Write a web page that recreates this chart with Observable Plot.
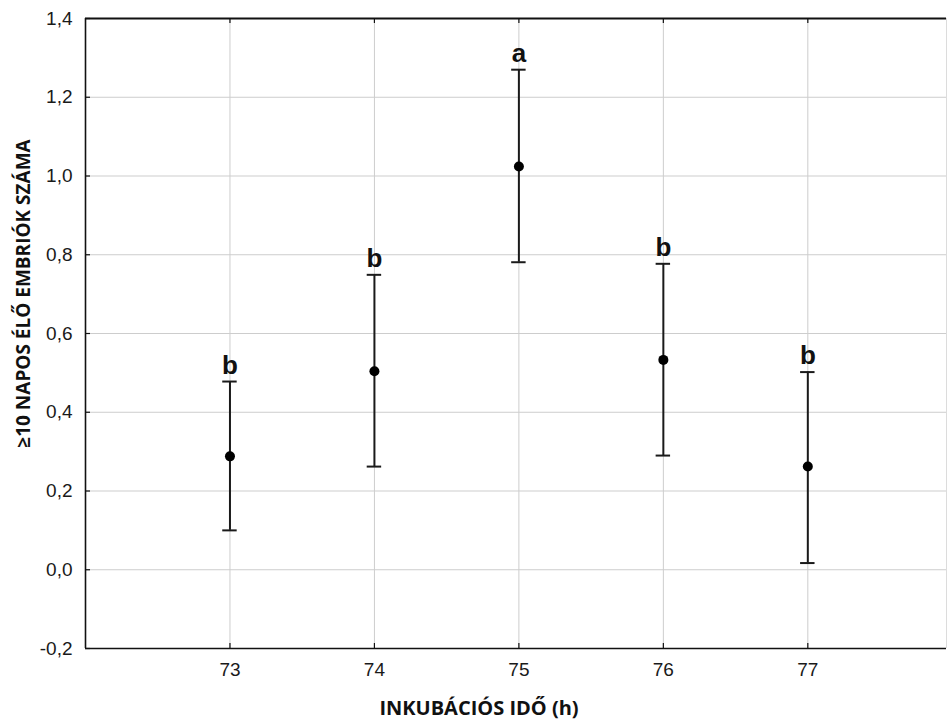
<!DOCTYPE html>
<html>
<head>
<meta charset="utf-8">
<script src="https://cdn.jsdelivr.net/npm/d3@7"></script>
<script src="https://cdn.jsdelivr.net/npm/@observablehq/plot@0.6"></script>
<style>
  html, body { margin: 0; padding: 0; background: #fff; }
  #chart { width: 947px; height: 720px; }
</style>
</head>
<body>
<div id="chart"></div>
<script>
// ---- data ----
const hours   = [73, 74, 75, 76, 77];
const means   = [0.288, 0.504, 1.024, 0.533, 0.262];
const upper   = [0.478, 0.749, 1.270, 0.777, 0.502];
const lower   = [0.100, 0.262, 0.781, 0.290, 0.017];
const letters = ["b", "b", "a", "b", "b"];

const xTicks = [73, 74, 75, 76, 77];
const yTicks = [-0.2, 0.0, 0.2, 0.4, 0.6, 0.8, 1.0, 1.2, 1.4];
const xTitle = "INKUBÁCIÓS IDŐ (h)";
const yTitle = "≥10 NAPOS ÉLŐ EMBRIÓK SZÁMA";

// ---- layout ----
const xDomain = [72, 77.96];
const yDomain = [-0.2, 1.4];
const W = 947, H = 720, mT = 18, mB = 72, mL = 85, mR = 1;
const plotW = W - mL - mR, plotH = H - mT - mB;
const tickLen = 5;
const capHalf = 0.05;

const rows = hours.map((h, i) => ({x: h, mean: means[i], hi: upper[i], lo: lower[i], letter: letters[i]}));
const fmtY = d => d.toFixed(1).replace(".", ",");
const fmtX = d => String(d);
const sans = "Liberation Sans, Arial, sans-serif";

const chart = Plot.plot({
  width: W, height: H,
  marginTop: mT, marginBottom: mB, marginLeft: mL, marginRight: mR,
  x: {domain: xDomain},
  y: {domain: yDomain},
  style: {background: "white", fontFamily: sans, color: "#222"},
  marks: [
    Plot.gridX(xTicks, {stroke: "#cdcdcd", strokeOpacity: 1, strokeWidth: 1}),
    Plot.gridY(yTicks.slice(1, -1), {stroke: "#cdcdcd", strokeOpacity: 1, strokeWidth: 1}),
    // frame
    Plot.ruleX([xDomain[1]], {stroke: "#dcdcdc", strokeWidth: 1}),
    Plot.ruleY([yDomain[0]], {stroke: "#111", strokeWidth: 1.6}),
    Plot.ruleY([yDomain[1]], {stroke: "#111", strokeWidth: 2}),
    Plot.ruleX([xDomain[0]], {stroke: "#111", strokeWidth: 1.6}),
    // inward ticks
    Plot.tickX(xTicks, {x: d => d, insetTop: plotH - tickLen, stroke: "#111", strokeWidth: 1.2}),
    Plot.tickX(xTicks, {x: d => d, insetBottom: plotH - tickLen, stroke: "#111", strokeWidth: 1.2}),
    Plot.tickY(yTicks, {y: d => d, insetRight: plotW - tickLen, stroke: "#111", strokeWidth: 1.2}),
    // axes labels
    Plot.axisX(xTicks, {tickSize: 0, tickPadding: 14, fontSize: 19, label: null, tickFormat: fmtX, fill: "#1a1a1a"}),
    Plot.axisY(yTicks, {tickSize: 0, tickPadding: 13, fontSize: 19, label: null, tickFormat: fmtY, fill: "#1a1a1a"}),
    // error bars
    Plot.ruleX(rows, {x: "x", y1: "lo", y2: "hi", stroke: "#1a1a1a", strokeWidth: 2}),
    Plot.ruleY(rows, {y: "hi", x1: d => d.x - capHalf, x2: d => d.x + capHalf, stroke: "#1a1a1a", strokeWidth: 2}),
    Plot.ruleY(rows, {y: "lo", x1: d => d.x - capHalf, x2: d => d.x + capHalf, stroke: "#1a1a1a", strokeWidth: 2}),
    Plot.dot(rows, {x: "x", y: "mean", r: 5, fill: "#000", stroke: null}),
    Plot.text(rows, {x: "x", y: "hi", text: "letter", dy: -8, lineAnchor: "bottom", fontSize: 26, fontWeight: "bold", fill: "#111", fontFamily: sans}),
    // titles
    Plot.text([xTitle], {text: d => d, frameAnchor: "bottom", textAnchor: "middle", dx: -37, dy: 60.5, lineAnchor: "middle",
      fontSize: 20, fontWeight: 700, fontFamily: "Open Sans, sans-serif", fill: "#111"}),
    Plot.text([yTitle], {text: d => d, frameAnchor: "left", textAnchor: "middle", rotate: -90, dx: -62, dy: -40, lineAnchor: "middle",
      fontSize: 19, fontWeight: 700, fontFamily: "Open Sans, sans-serif", fill: "#111"})
  ]
});
document.getElementById("chart").appendChild(chart);
</script>
</body>
</html>
